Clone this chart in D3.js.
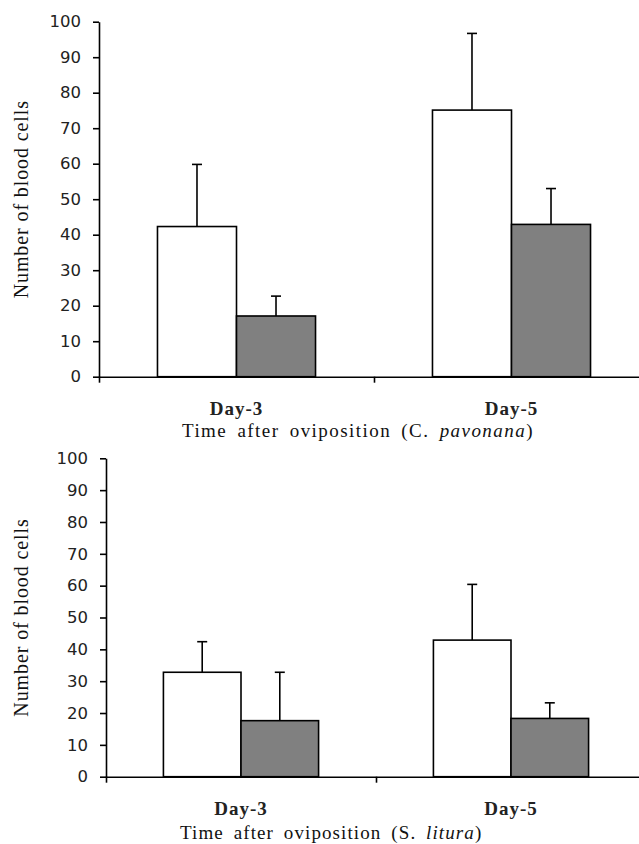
<!DOCTYPE html>
<html>
<head>
<meta charset="utf-8">
<script src="https://cdn.jsdelivr.net/npm/d3@7"></script>
<style>
  body { margin: 0; background: #fff; }
  svg { display: block; }
  .serif { font-family: 'Liberation Serif', 'Times New Roman', 'DejaVu Serif', serif; }
  .sans { font-family: 'DejaVu Sans', Verdana, sans-serif; }
</style>
</head>
<body>
<div id="chart-area"></div>
<script>
// data
var days = ['Day-3', 'Day-5']
var series = ['open', 'filled']
var yTicks = [0, 10, 20, 30, 40, 50, 60, 70, 80, 90, 100]

var pavonanaOpen = [42.3, 75.1]
var pavonanaOpenErr = [17.5, 21.6]
var pavonanaFilled = [17.1, 42.9]
var pavonanaFilledErr = [5.6, 10.1]

var lituraOpen = [32.8, 42.9]
var lituraOpenErr = [9.6, 17.5]
var lituraFilled = [17.6, 18.3]
var lituraFilledErr = [15.2, 4.9]

var fills = { open: '#ffffff', filled: '#808080' }

var svg = d3.select('#chart-area')
  .append('svg')
    .attr('width', 639)
    .attr('height', 844)

function panel(opts) {
  var rows = days.map((d, i) => ({
    day: d,
    bars: [
      { key: 'open', value: opts.open[i], err: opts.openErr[i] },
      { key: 'filled', value: opts.filled[i], err: opts.filledErr[i] }
    ]
  }))

  var x0 = d3.scaleBand()
      .domain(days)
      .range([opts.left, opts.left + opts.catWidth * days.length])
      .padding(0)

  var x1 = d3.scaleBand()
      .domain(series)
      .range([0, x0.bandwidth()])
      .paddingInner(0)
      .paddingOuter(0.74)

  var y = d3.scaleLinear()
      .domain([0, 100])
      .range([opts.bottom, opts.top])

  // y axis
  var yAxis = svg.append('g')
    .attr('transform', 'translate(' + opts.left + ',0)')
    .call(d3.axisLeft(y).tickValues(yTicks).tickSize(6).tickSizeOuter(0).tickPadding(12))
  yAxis.attr('font-family', null).attr('font-size', null)
  yAxis.select('.domain').attr('stroke', '#000').attr('stroke-width', 1.6)
  yAxis.selectAll('.tick line').attr('stroke', '#000').attr('stroke-width', 1.6)
  yAxis.selectAll('.tick text')
    .attr('class', 'sans')
    .style('font-size', '16.5px')
    .attr('fill', '#222')

  // x axis: ticks at category boundaries
  var xb = d3.scaleLinear().domain([0, days.length]).range(x0.range())
  var xAxis = svg.append('g')
    .attr('transform', 'translate(0,' + opts.bottom + ')')
    .call(d3.axisBottom(xb).tickValues(d3.range(days.length + 1)).tickSize(6).tickSizeOuter(0).tickFormat(''))
  xAxis.select('.domain').attr('stroke', '#000').attr('stroke-width', 1.6)
  xAxis.selectAll('.tick line').attr('stroke', '#000').attr('stroke-width', 1.6)

  // category labels
  svg.selectAll(null)
    .data(days)
    .enter()
    .append('text')
      .attr('class', 'serif')
      .attr('x', d => x0(d) + x0.bandwidth() / 2)
      .attr('y', opts.bottom + 38)
      .attr('text-anchor', 'middle')
      .style('font-weight', 'bold')
      .style('font-size', '19px')
      .style('letter-spacing', '1px')
      .attr('fill', '#222')
      .text(d => d)

  var groups = svg.selectAll(null)
    .data(rows)
    .enter()
    .append('g')
      .attr('transform', d => 'translate(' + x0(d.day) + ',0)')

  // error bars (upper only)
  var eb = groups.selectAll('g.err')
    .data(d => d.bars)
    .enter()
    .append('g')
      .attr('class', 'err')
      .attr('stroke', '#000')
      .attr('stroke-width', 1.6)
  eb.append('line')
    .attr('x1', d => x1(d.key) + x1.bandwidth() / 2)
    .attr('x2', d => x1(d.key) + x1.bandwidth() / 2)
    .attr('y1', d => y(d.value))
    .attr('y2', d => y(d.value + d.err))
  eb.append('line')
    .attr('x1', d => x1(d.key) + x1.bandwidth() / 2 - 5)
    .attr('x2', d => x1(d.key) + x1.bandwidth() / 2 + 5)
    .attr('y1', d => y(d.value + d.err))
    .attr('y2', d => y(d.value + d.err))

  groups.selectAll('rect')
    .data(d => d.bars)
    .enter()
    .append('rect')
      .attr('x', d => x1(d.key))
      .attr('y', d => y(d.value))
      .attr('width', x1.bandwidth())
      .attr('height', d => opts.bottom - y(d.value))
      .attr('fill', d => fills[d.key])
      .attr('stroke', '#000')
      .attr('stroke-width', 1.6)

  // y label
  svg.append('text')
    .attr('class', 'serif')
    .attr('transform', 'translate(28,' + (opts.top + opts.bottom) / 2 + ') rotate(-90)')
    .attr('text-anchor', 'middle')
    .style('font-size', '20px')
    .style('letter-spacing', '0.9px')
    .attr('fill', '#111')
    .text('Number of blood cells')

  // x title
  var t = svg.append('text')
    .attr('class', 'serif')
    .attr('x', opts.titleX)
    .attr('y', opts.titleY)
    .style('font-size', '19px')
    .style('letter-spacing', opts.titleSpacing)
    .style('word-spacing', '4px')
    .attr('fill', '#111')
  t.append('tspan').text('Time after oviposition (' + opts.genus + ' ')
  t.append('tspan').style('font-style', 'italic').text(opts.species)
  t.append('tspan').text(')')
}

panel({
  left: 99, catWidth: 275, top: 21.7, bottom: 376.7,
  open: pavonanaOpen, openErr: pavonanaOpenErr,
  filled: pavonanaFilled, filledErr: pavonanaFilledErr,
  titleX: 182, titleY: 437, titleSpacing: '1.45px', genus: 'C.', species: 'pavonana'
})

panel({
  left: 106, catWidth: 270, top: 458.3, bottom: 776.7,
  open: lituraOpen, openErr: lituraOpenErr,
  filled: lituraFilled, filledErr: lituraFilledErr,
  titleX: 180, titleY: 839, titleSpacing: '1.1px', genus: 'S.', species: 'litura'
})
</script>
</body>
</html>
